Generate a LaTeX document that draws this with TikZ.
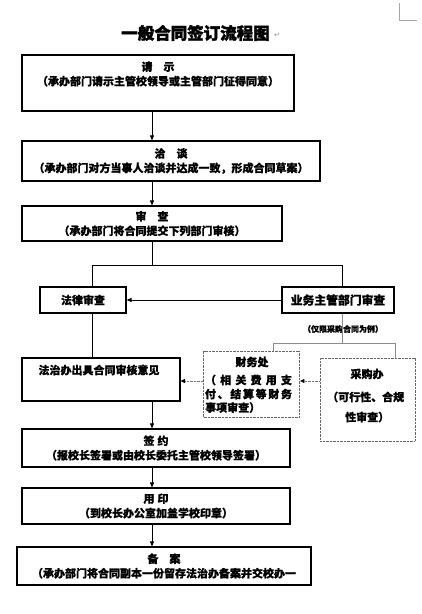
\documentclass[tikz,border=0pt]{standalone}
\usepackage{fontspec}
\setmainfont{Noto Sans CJK SC}[BoldFeatures={FakeBold=0.6}]
\newfontfamily\titlefont{Noto Sans CJK SC}[FakeBold=2]
\newfontfamily\symfont{DejaVu Sans}
\usetikzlibrary{arrows.meta}
\begin{document}
\begin{tikzpicture}[x=1pt,y=-1pt,
  box/.style={draw=black,line width=1.1pt,inner sep=0pt,align=center,font=\bfseries\fontsize{11}{14.5}\selectfont},
  dbox/.style={draw=black!60,line width=0.9pt,dash pattern=on 0.8pt off 0.6pt,inner sep=0pt},
  txt/.style={inner sep=0pt,align=center,font=\bfseries\fontsize{11}{14.5}\selectfont},
  arr/.style={line width=0.8pt,-{Triangle[length=5pt,width=4pt]}},
  ln/.style={line width=0.8pt},
  gln/.style={line width=0.7pt,draw=black!45},
  darr/.style={line width=0.9pt,draw=black!55,dash pattern=on 0.8pt off 0.6pt,-{Triangle[length=4.5pt,width=4pt,black]}}
]
\fill[white] (0,0) rectangle (422,614);
\useasboundingbox (0,0) rectangle (422,614);

% title and page marks
\node[font=\titlefont\bfseries\fontsize{16.5}{18}\selectfont,inner sep=0pt] (title) at (195.5,33) {一般合同签订流程图};
\node[font=\symfont\fontsize{7}{8}\selectfont,text=black!45,inner sep=0pt] (ret) at (277,35) {↵};
\draw[black!35,line width=0.7pt] (399,3) -- (399,20) -- (417,20);

% boxes
\node[box,minimum width=272pt,minimum height=56pt] (b1) at (158,83) {};
\node[txt] (t1) at (158,74) {请　示\\（承办部门请示主管校领导或主管部门征得同意）};
\node[box,minimum width=298pt,minimum height=40pt] (b2) at (171,161) {洽　谈\\（承办部门对方当事人洽谈并达成一致，形成合同草案）};
\node[box,minimum width=260pt,minimum height=35pt] (b3) at (152,223.5) {审　查\\（承办部门将合同提交下列部门审核）};
\node[box,minimum width=86pt,minimum height=26pt] (law) at (83,300) {法律审查};
\node[box,minimum width=112pt,minimum height=26pt,font=\bfseries\fontsize{11.8}{14}\selectfont] (biz) at (338,300) {业务主管部门审查};
\node[font=\bfseries\fontsize{8}{9}\selectfont,inner sep=0pt] (note) at (343,329) {（仅限采购合同为例）};

\node[box,minimum width=158pt,minimum height=43pt] (fz) at (101,379.5) {};
\node[txt] (tfz) at (99,370) {法治办出具合同审核意见};

\node[dbox,minimum width=96pt,minimum height=66pt] (cw) at (251.5,384) {};
\node[txt] (cw1) at (252,362) {财务处};
\node[txt] (cw2) at (248.5,380) {\makebox[87pt][s]{（\hfill 相\hfill 关\hfill 费\hfill 用\hfill 支}};
\node[txt] (cw3) at (248.5,394) {\makebox[87pt][s]{付\hfill 、\hfill 结\hfill 算\hfill 等\hfill 财\hfill 务}};
\node[txt,anchor=west] (cw4) at (205,407.5) {事项审查）};

\node[dbox,minimum width=95pt,minimum height=83pt] (cg) at (367.5,399.5) {};
\node[txt] (cg1) at (367,374) {采购办};
\node[txt,anchor=west] (cg2) at (327,397) {（可行性、合规};
\node[txt,anchor=west] (cg3) at (345,417) {性审查）};

\node[box,minimum width=268pt,minimum height=38pt] (qy) at (156,448) {签\hspace{3pt}约\\（报校长签署或由校长委托主管校领导签署）};
\node[box,minimum width=268pt,minimum height=36pt] (yy) at (156,506) {用\hspace{3pt}印\\（到校长办公室加盖学校印章）};
\node[box,minimum width=294pt,minimum height=38pt] (ba) at (164,566) {备　案\\（承办部门将合同副本一份留存法治办备案并交校办一};

% connectors
\coordinate (sp) at (152,0);
\draw[arr] (b1.south -| sp) -- (b2.north -| sp);
\draw[arr] (b2.south -| sp) -- (b3.north -| sp);
\coordinate (fk) at (152,265);
\coordinate (fkL) at (92,265);
\coordinate (fkR) at (342,265);
\draw[ln] (b3.south -| sp) -- (fk);
\draw[ln] (law.north -| fkL) -- (fkL) -- (fkR) -- (biz.north -| fkR);
\draw[arr] (biz.west) -- (law.east);
\draw[ln] (law.south -| fkL) -- (fz.north -| fkL);
\coordinate (sub) at (342,343);
\coordinate (subL) at (273,343);
\coordinate (subR) at (395,343);
\draw[gln] (biz.south -| sub) -- (sub);
\draw[gln] (cw.north -| subL) -- (subL) -- (subR) -- (cg.north -| subR);
\coordinate (row) at (0,381);
\draw[darr] (cg.west |- row) -- (cw.east |- row);
\draw[darr] (cw.west |- row) -- (fz.east |- row);
\draw[arr] (fz.south -| sp) -- (qy.north -| sp);
\draw[arr] (qy.south -| sp) -- (yy.north -| sp);
\draw[arr] (yy.south -| sp) -- (ba.north -| sp);
\end{tikzpicture}
\end{document}
